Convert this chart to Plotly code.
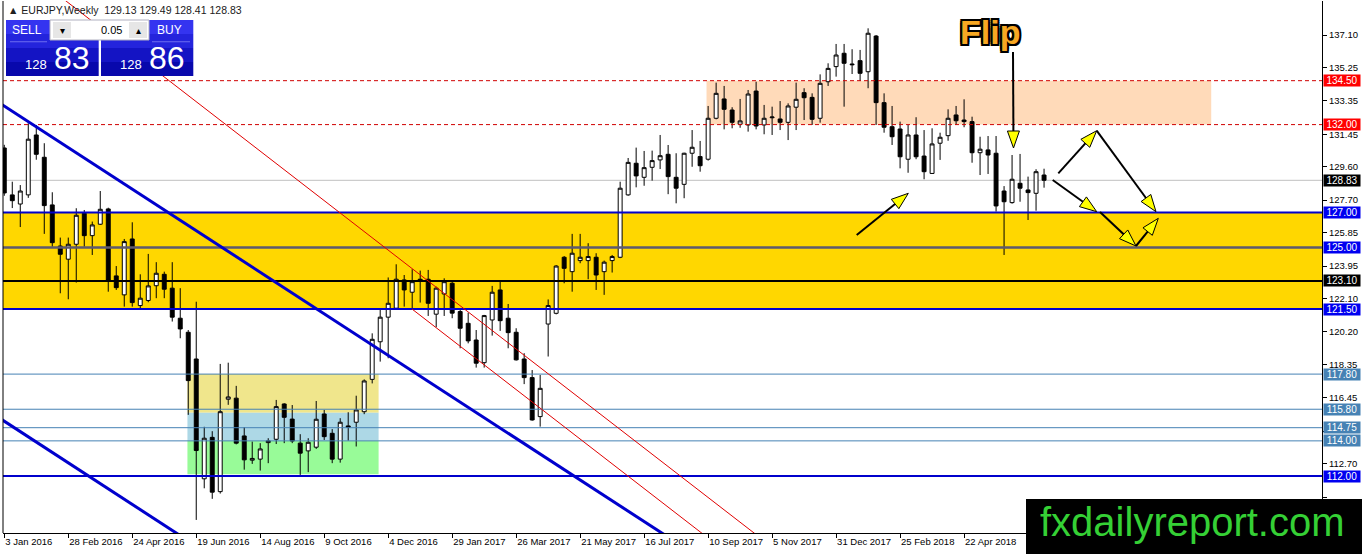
import math
import pandas as pd
import plotly.graph_objects as go

# EURJPY weekly bars, first bar is the week of 3 Jan 2016
first_week = "2016-01-03"

opens = [
    130.67, 128.00, 127.48, 128.00, 131.41, 130.14, 127.43, 125.09, 124.34, 125.19,
    126.95, 125.68, 126.33, 127.20, 123.39, 122.31, 125.49, 121.70, 121.99, 122.83,
    123.48, 122.69, 120.98, 120.18, 118.66, 111.84, 114.20, 111.11, 116.37, 116.43,
    114.28, 112.90, 112.96, 113.90, 114.09, 116.10, 115.24, 113.87, 113.43, 113.64,
    115.53, 114.43, 112.96, 114.85, 115.06, 115.66, 117.50, 119.64, 121.04, 121.55,
    123.16, 122.46, 123.20, 123.20, 121.21, 122.36, 122.97, 121.36, 120.69, 119.74,
    118.45, 120.88, 122.59, 120.98, 120.18, 118.66, 117.60, 115.38, 120.65, 121.26,
    124.45, 123.63, 124.26, 124.26, 124.45, 123.63, 124.26, 124.45, 128.00, 129.80,
    129.00, 129.57, 129.99, 130.31, 129.00, 128.60, 130.37, 130.18, 130.03, 132.36,
    133.46, 132.83, 132.02, 131.98, 133.91, 131.98, 132.39, 132.32, 132.13, 132.99,
    133.82, 133.55, 132.36, 134.44, 135.30, 136.06, 135.45, 135.64, 135.01, 137.04,
    133.25, 131.88, 131.75, 130.03, 131.41, 130.21, 129.22, 130.94, 131.37, 132.55,
    132.26, 132.17, 130.40, 130.56, 130.37, 128.22, 127.56, 128.66, 128.28, 128.09,
    129.13,
]
highs = [
    130.85, 128.75, 128.56, 132.08, 131.98, 130.94, 128.15, 125.57, 125.57, 127.24,
    127.14, 126.48, 128.22, 127.27, 123.95, 125.49, 126.44, 123.48, 124.64, 124.17,
    123.63, 124.17, 122.69, 120.31, 121.92, 114.80, 114.55, 118.38, 118.45, 117.13,
    114.78, 113.96, 113.87, 114.15, 116.33, 116.14, 116.04, 114.38, 114.15, 116.27,
    115.76, 114.67, 115.29, 115.63, 116.57, 117.50, 120.12, 121.45, 123.30, 124.05,
    123.44, 123.77, 123.69, 123.73, 122.78, 123.25, 123.06, 121.45, 121.30, 120.31,
    121.17, 122.82, 123.06, 121.79, 120.41, 118.99, 118.03, 117.75, 122.05, 124.00,
    124.52, 125.78, 125.78, 125.25, 124.68, 124.26, 124.58, 128.75, 130.10, 130.69,
    130.50, 130.52, 131.41, 130.84, 130.37, 130.40, 131.69, 131.07, 133.06, 134.39,
    134.20, 132.99, 133.46, 133.97, 134.44, 133.12, 133.02, 133.34, 133.21, 134.39,
    134.07, 133.78, 134.86, 135.49, 136.59, 136.59, 136.29, 136.25, 137.48, 137.10,
    133.78, 133.06, 132.17, 131.98, 132.42, 131.69, 131.79, 131.54, 132.87, 133.06,
    133.44, 132.45, 131.31, 131.35, 131.35, 128.50, 130.27, 130.33, 129.04, 129.46,
    129.49,
]
lows = [
    127.95, 127.25, 126.17, 127.83, 130.00, 125.78, 125.05, 122.40, 122.06, 123.01,
    125.05, 124.58, 126.29, 122.49, 122.59, 121.64, 121.64, 121.45, 121.89, 122.12,
    122.12, 120.79, 119.84, 115.48, 109.50, 111.30, 110.70, 111.00, 116.05, 113.80,
    112.36, 112.69, 112.31, 112.73, 113.82, 113.87, 113.87, 112.06, 112.22, 113.54,
    114.05, 112.73, 112.76, 114.01, 113.68, 115.52, 117.27, 118.51, 118.70, 121.45,
    121.64, 121.45, 121.87, 121.11, 120.47, 121.11, 120.98, 119.27, 119.55, 118.17,
    118.17, 119.99, 120.26, 119.27, 118.57, 117.23, 115.15, 114.81, 118.80, 121.20,
    122.97, 122.49, 124.11, 123.20, 122.59, 122.31, 123.58, 124.40, 127.95, 128.43,
    128.52, 128.81, 129.47, 128.04, 127.52, 127.81, 129.60, 129.32, 129.95, 132.30,
    131.73, 131.79, 131.82, 131.60, 131.73, 131.45, 131.41, 131.69, 131.12, 131.69,
    132.26, 131.98, 132.11, 134.20, 134.73, 133.02, 134.88, 134.48, 134.07, 131.98,
    131.54, 130.84, 129.51, 129.26, 130.03, 128.89, 129.20, 129.99, 131.08, 131.98,
    131.85, 129.83, 129.13, 129.19, 127.05, 124.58, 127.50, 127.61, 126.57, 127.10,
    128.41,
]
closes = [
    128.11, 127.67, 128.22, 131.17, 130.31, 127.39, 125.28, 124.62, 125.19, 126.84,
    125.68, 126.29, 127.18, 123.12, 122.72, 125.34, 121.87, 122.12, 122.82, 123.54,
    122.63, 121.04, 120.37, 117.43, 113.45, 114.15, 111.08, 115.66, 116.50, 113.87,
    112.92, 113.00, 113.54, 114.00, 115.95, 115.34, 113.99, 113.30, 113.92, 115.23,
    114.24, 112.96, 115.06, 114.78, 115.76, 117.41, 119.78, 121.04, 121.83, 123.20,
    122.59, 123.06, 123.10, 121.83, 122.69, 123.06, 121.27, 120.41, 119.69, 118.42,
    121.13, 122.46, 120.84, 120.16, 118.61, 117.60, 115.19, 116.99, 121.70, 123.95,
    123.82, 124.68, 124.45, 124.49, 123.44, 124.17, 124.49, 128.38, 129.85, 129.08,
    129.55, 129.95, 130.23, 129.04, 128.38, 130.37, 130.71, 129.66, 132.36, 133.78,
    132.87, 132.13, 132.21, 133.74, 131.92, 132.36, 132.43, 132.13, 133.06, 133.44,
    133.53, 132.30, 134.35, 135.20, 135.96, 135.49, 135.41, 134.92, 137.20, 133.25,
    131.85, 131.31, 130.17, 131.41, 130.17, 129.32, 130.90, 131.28, 132.36, 132.22,
    132.17, 130.40, 130.60, 130.27, 127.37, 127.61, 128.89, 128.38, 128.13, 129.32,
    128.83,
]

# horizontal levels and their label colours
red_levels = [134.50, 132.00]
blue_levels = [127.00, 121.50, 112.00]
grey_level = 125.00
black_level = 123.10
thin_levels = [117.80, 115.80, 114.75, 114.00]
last_price = 128.83
bid_big, ask_big, price_handle = "83", "86", "128"

y_ticks = [137.10, 135.25, 133.35, 131.45, 129.60, 127.70, 125.85, 123.95,
           122.10, 120.20, 118.35, 116.45, 114.55, 112.70, 110.80]
hidden_ticks = [114.55, 110.80]  # covered by price tags / watermark in the original

FONT = "Liberation Sans, Arial, sans-serif"
L, R, T, B = 3, 1322, 1, 533  # plot area in page pixels

dates = pd.date_range(first_week, periods=len(opens), freq="7D")


def wk(i):
    return str(pd.Timestamp(first_week) + pd.Timedelta(days=7 * i))


def px(x, y):
    return (x - L) / (R - L), (B - y) / (B - T)


shapes = []
annotations = []

# background zones
shapes.append(dict(type="rect", xref="paper", yref="y", x0=0, x1=1, y0=121.5, y1=127.0,
                   fillcolor="#FFD700", line=dict(width=0), layer="below"))
shapes.append(dict(type="rect", xref="x", yref="y", x0=wk(87.8), x1=wk(150.9), y0=132.0, y1=134.5,
                   fillcolor="#FFDAB9", line=dict(width=0), layer="below"))
for lo, hi, col in [(115.6, 117.8, "#F0E68C"), (114.0, 115.6, "#ADD8E6"), (112.1, 114.0, "#98FB98")]:
    shapes.append(dict(type="rect", xref="x", yref="y", x0=wk(22.9), x1=wk(46.8), y0=lo, y1=hi,
                       fillcolor=col, line=dict(width=0), layer="below"))

# horizontal lines
shapes.append(dict(type="line", xref="paper", yref="y", x0=0, x1=1, y0=last_price, y1=last_price,
                   line=dict(color="#C0C0C0", width=1), layer="below"))
for lv in red_levels:
    shapes.append(dict(type="line", xref="paper", yref="y", x0=0, x1=1, y0=lv, y1=lv,
                       line=dict(color="#D00000", width=1, dash="4px,3px")))
for lv in thin_levels:
    shapes.append(dict(type="line", xref="paper", yref="y", x0=0, x1=1, y0=lv, y1=lv,
                       line=dict(color="#4682B4", width=1)))
shapes.append(dict(type="line", xref="paper", yref="y", x0=0, x1=1, y0=grey_level, y1=grey_level,
                   line=dict(color="#5E5A6E", width=2.5)))
shapes.append(dict(type="line", xref="paper", yref="y", x0=0, x1=1, y0=black_level, y1=black_level,
                   line=dict(color="black", width=2)))
for lv in blue_levels:
    shapes.append(dict(type="line", xref="paper", yref="y", x0=0, x1=1, y0=lv, y1=lv,
                       line=dict(color="#0000CC", width=2)))

# trend lines
for (a, pa, b, pb) in [(-2, 133.65, 85, 107.93), (-2, 115.71, 25, 107.72)]:
    shapes.append(dict(type="line", xref="x", yref="y", x0=wk(a), y0=pa, x1=wk(b), y1=pb,
                       line=dict(color="#0000CD", width=3)))
for (a, pa, b, pb) in [(6, 139.64, 97, 107.61), (50.96, 121.51, 97, 105.3)]:
    shapes.append(dict(type="line", xref="x", yref="y", x0=wk(a), y0=pa, x1=wk(b), y1=pb,
                       line=dict(color="#E00000", width=1)))

# left frame
shapes.append(dict(type="line", xref="paper", yref="paper", x0=0, x1=0, y0=0, y1=1,
                   line=dict(color="black", width=1)))


def arrow(x0, y0, x1, y1, head=17, half=6):
    dx, dy = x1 - x0, y1 - y0
    d = math.hypot(dx, dy)
    ux, uy = dx / d, dy / d
    bx, by = x1 - ux * head, y1 - uy * head
    a0, a1 = px(x0, y0), px(bx, by)
    shapes.append(dict(type="line", xref="paper", yref="paper", x0=a0[0], y0=a0[1], x1=a1[0], y1=a1[1],
                       line=dict(color="black", width=2)))
    p1 = px(x1, y1)
    p2 = px(bx - uy * half, by + ux * half)
    p3 = px(bx + uy * half, by - ux * half)
    shapes.append(dict(type="path", xref="paper", yref="paper",
                       path=f"M {p1[0]},{p1[1]} L {p2[0]},{p2[1]} L {p3[0]},{p3[1]} Z",
                       fillcolor="#FFFF00", line=dict(color="black", width=1)))


arrow(856.7, 235, 908.3, 193.3)
arrow(1013, 52, 1013.5, 148)
arrow(1058.3, 173.3, 1096.7, 130.7)
arrow(1096.7, 130.7, 1156, 211.7)
arrow(1052.7, 180, 1096.7, 211.7)
arrow(1100, 212, 1136, 246)
arrow(1136, 246, 1158.3, 218.3)


def box(x0, y0, x1, y1, color, line=None):
    a, b = px(x0, y0), px(x1, y1)
    shapes.append(dict(type="rect", xref="paper", yref="paper", x0=a[0], y0=b[1], x1=b[0], y1=a[1],
                       fillcolor=color, line=line or dict(width=0)))


def text(x, y, s, size, color="white", xa="center", ya="middle", family=FONT):
    p = px(x, y)
    annotations.append(dict(xref="paper", yref="paper", x=p[0], y=p[1], text=s, showarrow=False,
                            xanchor=xa, yanchor=ya, font=dict(size=size, color=color, family=family)))


# one-click trading panel
bands = ["#3434F0", "#2424DC", "#1414C4", "#0808AC"]
for k, col in enumerate(bands):
    box(6, 20 + 14 * k, 98.7, 34 + 14 * k, col)
    box(101, 20 + 14 * k, 193.3, 34 + 14 * k, col)
box(50, 20, 149, 40, "white", dict(color="#B0B0C0", width=1))
box(53, 22, 71, 38, "#E6E6E6")
box(129, 22, 147, 38, "#E6E6E6")
box(10, 41.3, 47, 42.3, "#6C6CF0")
box(152, 41.3, 190, 42.3, "#6C6CF0")
text(27, 30, "SELL", 12)
text(169, 30, "BUY", 12)
text(124, 30, "0.05", 11, "black", xa="right")
text(62, 30, "▾", 10, "black")
text(138, 30, "▴", 10, "black")
text(49, 64, price_handle, 13, xa="right")
text(52, 58, bid_big, 32, xa="left")
text(144, 64, price_handle, 13, xa="right")
text(147, 58, ask_big, 32, xa="left")
text(6, 10, "▲ EURJPY,Weekly  129.13 129.49 128.41 128.83", 10.5, "#202020", xa="left")

# Flip label
p = px(990, 32)
annotations.append(dict(xref="paper", yref="paper", x=p[0], y=p[1], text="<b>Flip</b>", showarrow=False,
                        xanchor="center", yanchor="middle",
                        font=dict(size=34, color="#F7A823", family=FONT,
                                  shadow="2px 2px 0 #000, -2px -2px 0 #000, 2px -2px 0 #000, -2px 2px 0 #000, "
                                         "0 2px 0 #000, 0 -2px 0 #000, 2px 0 0 #000, -2px 0 0 #000")))

# price tags on the right axis
tags = [(v, "#FF0000") for v in red_levels] + [(last_price, "black")]
tags += [(v, "#0000F0") for v in blue_levels] + [(grey_level, "#0000F0"), (black_level, "black")]
tags += [(v, "#4682B4") for v in thin_levels]
for v, col in tags:
    annotations.append(dict(xref="paper", yref="y", x=1, xshift=1, y=v, xanchor="left", yanchor="middle",
                            text=f"{v:.2f}", showarrow=False, bgcolor=col, width=36, height=11,
                            borderpad=0, font=dict(size=10, color="white", family=FONT)))

# watermark
box(1026, 499, 1370, 560, "black")
text(1192, 522, "fxdailyreport.com", 40, "#35D035")

fig = go.Figure()
fig.add_trace(go.Candlestick(
    x=dates, open=opens, high=highs, low=lows, close=closes,
    increasing=dict(fillcolor="white", line=dict(color="black", width=1)),
    decreasing=dict(fillcolor="black", line=dict(color="black", width=1)),
    whiskerwidth=0,
))

fig.update_layout(
    width=1362, height=554,
    margin=dict(l=L, r=1362 - R, t=T, b=554 - B),
    paper_bgcolor="white", plot_bgcolor="white",
    showlegend=False,
    shapes=shapes, annotations=annotations,
    xaxis=dict(
        type="date", range=[wk(-0.16), wk(164.75)],
        rangeslider=dict(visible=False), showgrid=False, zeroline=False,
        tickvals=list(dates[:121:8]), tickformat="%-d %b %Y", tickangle=0, automargin=False,
        ticks="outside", ticklen=4, tickcolor="black",
        ticklabelposition="outside right",
        showline=True, linecolor="black", linewidth=1,
        tickfont=dict(size=9.5, color="black", family=FONT),
    ),
    yaxis=dict(
        side="right", range=[108.756, 139.035], automargin=False,
        tickvals=y_ticks,
        ticktext=["" if v in hidden_ticks else f"{v:.2f}" for v in y_ticks],
        showgrid=False, zeroline=False,
        ticks="outside", ticklen=4, tickcolor="black",
        showline=True, linecolor="black", linewidth=1,
        tickfont=dict(size=9.5, color="black", family=FONT),
    ),
)

fig.write_html("out.html", config={"displayModeBar": False},
               post_script="document.body.style.margin='0';")
